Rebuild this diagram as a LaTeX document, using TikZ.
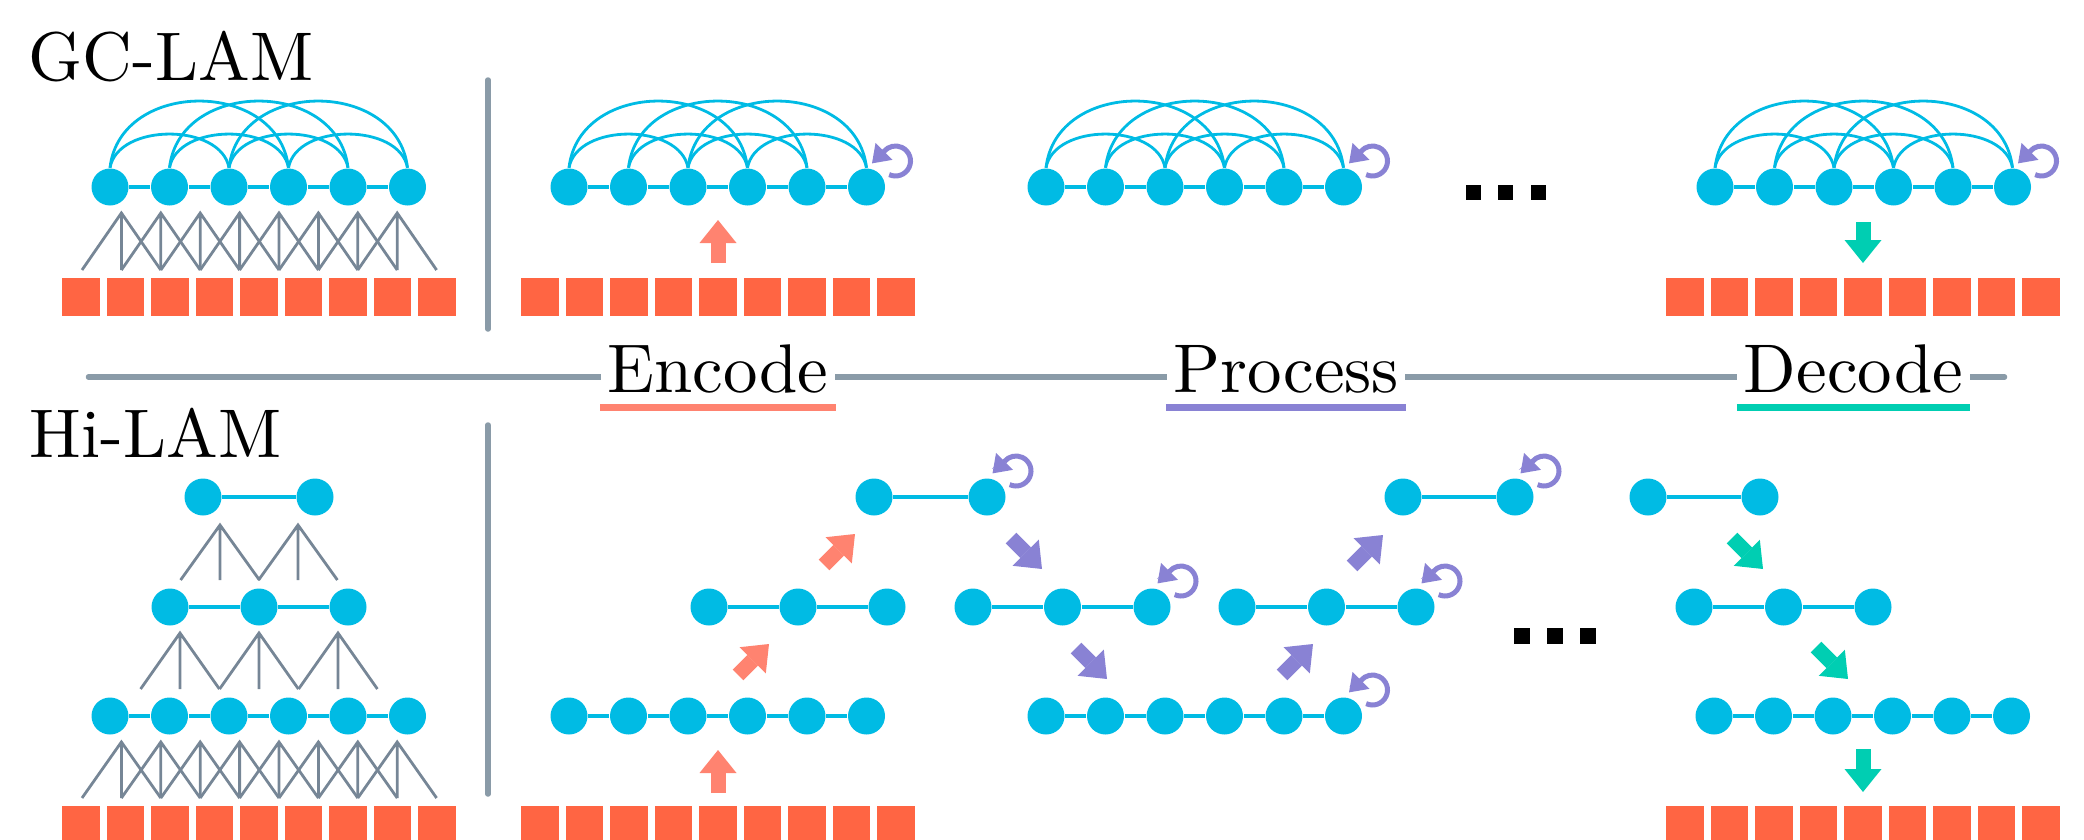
\documentclass[tikz,border=0pt]{standalone}
\usepackage{fontspec}
\usetikzlibrary{arrows.meta}

\newfontfamily\lmten{lmroman10-regular.otf}
\definecolor{tokblue}{RGB}{0,187,228}
\definecolor{tokred}{RGB}{255,101,67}
\definecolor{encred}{RGB}{255,131,112}
\definecolor{procpurple}{RGB}{137,130,212}
\definecolor{decgreen}{RGB}{0,206,178}
\definecolor{slate}{RGB}{118,134,150}
\definecolor{rulegray}{RGB}{138,155,168}

\begin{document}
\begin{tikzpicture}[
        tok/.style={circle, fill=tokblue, inner sep=0pt, minimum size=0.37cm},
        seq/.style={draw=tokblue, line width=0.045cm},
        attn/.style={draw=tokblue, line width=0.028cm},
        conv/.style={draw=slate, line width=0.028cm},
        divider/.style={draw=rulegray, line width=0.055cm, line cap=round},
        fat/.style={line width=0.15cm, -{Triangle[width=0.37cm, length=0.23cm, line width=0pt]}},
        enc/.style={fat, draw=encred},
        proc/.style={fat, draw=procpurple},
        dec/.style={fat, draw=decgreen},
        selfloop/.style={draw=procpurple, line width=0.05cm, -{Triangle[width=0.24cm, length=0.17cm, line width=0pt]}},
        title/.style={anchor=base west, inner sep=0pt, font=\lmten\fontsize{19.6}{23.5}\selectfont},
        lbl/.style={anchor=base, fill=white, inner xsep=0.065cm, inner ysep=0.05cm, font=\lmten\fontsize{19.6}{23.5}\selectfont},
        ul/.style={line width=0.07cm}
    ]
        \useasboundingbox (0,0) rectangle (20.84,-8.40);
        \node[title] (gctitle) at (0.28,-0.80) {GC-LAM};
        \node[title] (hititle) at (0.29,-4.57) {Hi-LAM};
        \draw[divider] (4.88,-0.80) -- (4.88,-3.29);
        \draw[divider] (4.88,-4.25) -- (4.88,-7.94);
        \draw[divider] (0.885,-3.77) -- (20.045,-3.77);
        \node[lbl] (encl) at (7.18,-3.92) {Encode};
        \node[lbl] (procl) at (12.86,-3.92) {Process};
        \node[lbl] (decl) at (18.535,-3.92) {Decode};
        \draw[ul, encred] ([yshift=-0.15cm]encl.base west) -- ([yshift=-0.15cm]encl.base east);
        \draw[ul, procpurple] ([yshift=-0.15cm]procl.base west) -- ([yshift=-0.15cm]procl.base east);
        \draw[ul, decgreen] ([yshift=-0.15cm]decl.base west) -- ([yshift=-0.15cm]decl.base east);
        \foreach \x in {0.62, 5.21, 16.66}
            \foreach \i in {0,...,8} {
                \fill[tokred] ({\x+0.445*\i},-2.78) rectangle ++(0.376,-0.38);
                \fill[tokred] ({\x+0.445*\i},-8.06) rectangle ++(0.376,-0.38);
            }
        \foreach \ya/\yb/\xs in {-2.13/-2.70/{1.214,1.608,...,3.98}, -7.42/-7.98/{1.214,1.608,...,3.98}, -6.33/-6.89/{1.80,2.59,3.38}, -5.25/-5.80/{2.20,2.98}}
            \foreach \x in \xs
                \draw[conv] (\x-0.394,\yb) -- (\x,\ya) -- (\x+0.394,\yb) (\x,\ya) -- (\x,\yb);
        \foreach \p/\x/\y/\n/\d in {
                gl/1.10/-1.87/6/0.595, et/5.69/-1.87/6/0.595, pt/10.46/-1.87/6/0.595, dt/17.15/-1.87/6/0.595,
                hb/1.10/-7.16/6/0.595, hm/1.70/-6.07/3/0.89, ha/2.03/-4.97/2/1.12,
                eb/5.69/-7.16/6/0.595, em/7.09/-6.07/3/0.89, ea/8.74/-4.97/2/1.13,
                pm/9.73/-6.07/3/0.895, pb/10.46/-7.16/6/0.595, pn/12.37/-6.07/3/0.895, pa/14.03/-4.97/2/1.12,
                da/16.48/-4.97/2/1.12, dm/16.94/-6.07/3/0.895, db/17.14/-7.16/6/0.595} {
            \foreach \i in {1,...,\n}
                \node[tok] (\p\i) at ({\x+\d*(\i-1)},\y) {};
            \foreach \i [remember=\i as \k (initially 1)] in {2,...,\n}
                \draw[seq] (\p\k) -- (\p\i);
        }
        \foreach \p in {gl, et, pt, dt} {
            \foreach \a/\b in {1/3, 2/4, 3/5, 4/6}
                \draw[attn] (\p\a.north) .. controls +(0.08,0.45) and +(-0.08,0.45) .. (\p\b.north);
            \foreach \a/\b in {1/4, 2/5, 3/6}
                \draw[attn] (\p\a.north) .. controls +(0.1,0.89) and +(-0.1,0.89) .. (\p\b.north);
        }
        \foreach \nd in {et6, pt6, dt6, ea2, pm3, pb6, pn3, pa2}
            \draw[selfloop] ([shift={(0.29,0.26)}]\nd.center) ++(-115:0.15) arc[start angle=-115, end angle=140, radius=0.15] -- ++(225:0.17);
        \draw[enc] (7.18,-2.63) -- (7.18,-2.20);
        \draw[enc] (7.18,-7.93) -- (7.18,-7.50);
        \draw[enc] (7.38,-6.75) -- (7.69,-6.44);
        \draw[enc] (8.24,-5.65) -- (8.55,-5.34);
        \draw[proc] (10.11,-5.38) -- (10.42,-5.69);
        \draw[proc] (10.76,-6.48) -- (11.07,-6.79);
        \draw[proc] (12.82,-6.75) -- (13.13,-6.44);
        \draw[proc] (13.52,-5.66) -- (13.83,-5.35);
        \draw[dec] (17.32,-5.38) -- (17.63,-5.69);
        \draw[dec] (18.16,-6.47) -- (18.48,-6.79);
        \draw[dec] (18.63,-2.22) -- (18.63,-2.63);
        \draw[dec] (18.63,-7.49) -- (18.63,-7.92);
        \foreach \x in {14.73, 15.05, 15.38}
            \fill (\x-0.075,-1.845) rectangle ++(0.15,-0.15);
        \foreach \x in {15.215, 15.55, 15.875}
            \fill (\x-0.08,-6.28) rectangle ++(0.16,-0.16);
    \end{tikzpicture}
\end{document}
